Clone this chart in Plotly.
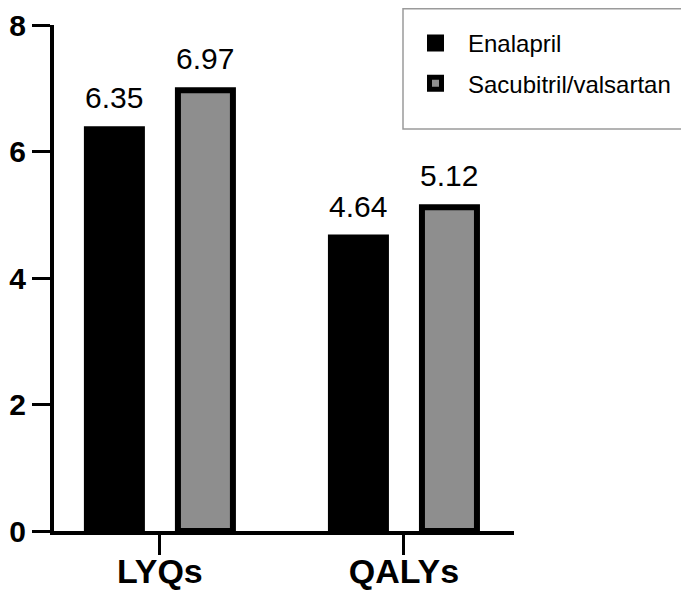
import plotly.graph_objects as go

categories = ["LYQs", "QALYs"]
enalapril = [6.35, 4.64]
sacubitril = [6.97, 5.12]
series_names = ["Enalapril", "Sacubitril/valsartan"]
y_ticks = [0, 2, 4, 6, 8]

FONT = "Arial, 'Liberation Sans', sans-serif"
BAR_W = 0.2254
OFF_A = -0.2992
OFF_B = 0.0738

fig = go.Figure()
fig.add_trace(go.Bar(
    x=categories, y=enalapril, name=series_names[0],
    width=BAR_W, offset=OFF_A,
    marker=dict(color="black", line=dict(color="black", width=6)),
    legendgroup="a",
))
fig.add_trace(go.Bar(
    x=categories, y=sacubitril, name=series_names[1],
    width=BAR_W, offset=OFF_B,
    marker=dict(color="#8e8e8e", line=dict(color="black", width=6)),
    legendgroup="b",
))

annotations = []
for i, v in enumerate(enalapril):
    annotations.append(dict(x=i + OFF_A + BAR_W / 2, y=v, xref="x", yref="y",
                            text=f"{v:.2f}", showarrow=False, yanchor="bottom",
                            yshift=13, font=dict(family=FONT, size=30, color="black")))
for i, v in enumerate(sacubitril):
    annotations.append(dict(x=i + OFF_B + BAR_W / 2, y=v, xref="x", yref="y",
                            text=f"{v:.2f}", showarrow=False, yanchor="bottom",
                            yshift=13, font=dict(family=FONT, size=30, color="black")))

fig.update_layout(
    width=689, height=591,
    margin=dict(l=46, r=183, t=17, b=68, autoexpand=False),
    paper_bgcolor="white", plot_bgcolor="white",
    barmode="overlay",
    font=dict(family=FONT, color="black"),
    annotations=annotations,
    legend=dict(
        x=0.7587, xanchor="left", y=1.008, yanchor="top",
        font=dict(family=FONT, size=24, color="black"),
        bgcolor="rgba(0,0,0,0)", borderwidth=0,
        itemwidth=55, tracegroupgap=6, traceorder="grouped",
    ),
    shapes=[dict(type="rect", xref="paper", yref="paper",
                 x0=0.7587, x1=1.3957, y0=0.7945, y1=1.032,
                 line=dict(color="#9a9a9a", width=1.5), fillcolor="rgba(0,0,0,0)")],
    xaxis=dict(
        type="category", range=[-0.434, 1.451], automargin=False,
        showline=True, linecolor="black", linewidth=4,
        ticks="outside", ticklen=20, tickwidth=3, tickcolor="black",
        ticklabelstandoff=-13,
        tickfont=dict(family=FONT, size=34, color="black", weight="bold"),
        showgrid=False, zeroline=False,
    ),
    yaxis=dict(
        range=[0, 8], tickvals=y_ticks, automargin=False,
        showline=True, linecolor="black", linewidth=4,
        ticks="outside", ticklen=18, tickwidth=3, tickcolor="black",
        tickfont=dict(family=FONT, size=30, color="black", weight="bold"),
        showgrid=False, zeroline=False,
    ),
    showlegend=True,
)

fig.write_html("out.html")
